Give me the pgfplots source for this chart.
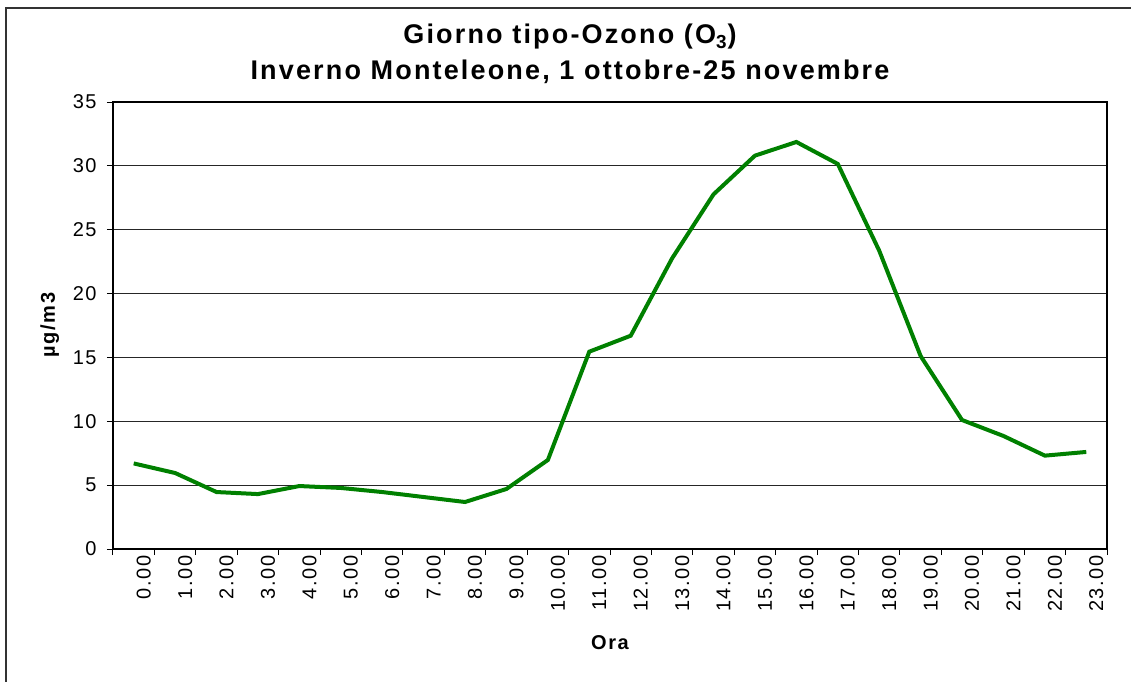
\documentclass[border=0pt]{standalone}
\usepackage{fontspec}
\setmainfont{Liberation Sans}[LetterSpace=8]
\usepackage{pgfplots}
\pgfplotsset{compat=1.18}
\definecolor{ozgreen}{RGB}{0,128,0}

\begin{document}
\begin{tikzpicture}
\useasboundingbox (-56.5pt,-66pt) rectangle (509pt,274.5pt);
\draw[line width=1.1pt, black!80] (-53.5pt,-90pt) rectangle (530pt,270.5pt);
\begin{axis}[
  at={(0,0)}, anchor=south west,
  width=497pt, height=223.5pt, scale only axis,
  xmin=-0.5, xmax=23.5, ymin=0, ymax=35,
  ytick={0,5,...,35},
  xtick={-0.5,0.5,...,23.5},
  x tick label as interval,
  xticklabels={0.00,1.00,2.00,3.00,4.00,5.00,6.00,7.00,8.00,9.00,10.00,11.00,12.00,13.00,14.00,15.00,16.00,17.00,18.00,19.00,20.00,21.00,22.00,23.00},
  ymajorgrids, grid style={black!85, line width=0.5pt},
  axis line style={black, line width=0.6pt},
  tick align=outside, major tick length=3pt,
  tick style={black, line width=0.5pt},
  xtick pos=bottom, ytick pos=left,
  /pgf/number format/assume math mode=true,
  tick label style={font=\fontsize{10}{11}\selectfont},
  xticklabel style={rotate=90, anchor=east, inner sep=0pt, yshift=-5pt},
  yticklabel style={anchor=east, inner sep=0pt, xshift=-5pt},
]
\addplot[color=ozgreen, line width=2pt] coordinates {
(0,6.7) (1,5.95) (2,4.46) (3,4.3) (4,4.93) (5,4.78) (6,4.46) (7,4.07)
(8,3.68) (9,4.7) (10,6.97) (11,15.45) (12,16.7) (13,22.76) (14,27.77)
(15,30.8) (16,31.87) (17,30.15) (18,23.36) (19,15.11) (20,10.1) (21,8.85)
(22,7.31) (23,7.6)};
\end{axis}
\node[font=\bfseries\fontsize{13.5}{15}\selectfont, anchor=base] at (228.5pt,252.5pt) {Giorno tipo-Ozono (O\textsubscript{3})};
\node[font=\bfseries\fontsize{13.5}{15}\selectfont, anchor=base] at (228.5pt,234.5pt) {Inverno Monteleone, 1 ottobre-25 novembre};
\node[font=\bfseries\fontsize{10}{12}\selectfont, anchor=base] at (248.5pt,-50pt) {Ora};
\node[font=\bfseries\fontsize{10}{12}\selectfont, rotate=90, anchor=base] at (-29pt,112pt) {µg/m3};
\end{tikzpicture}
\end{document}
